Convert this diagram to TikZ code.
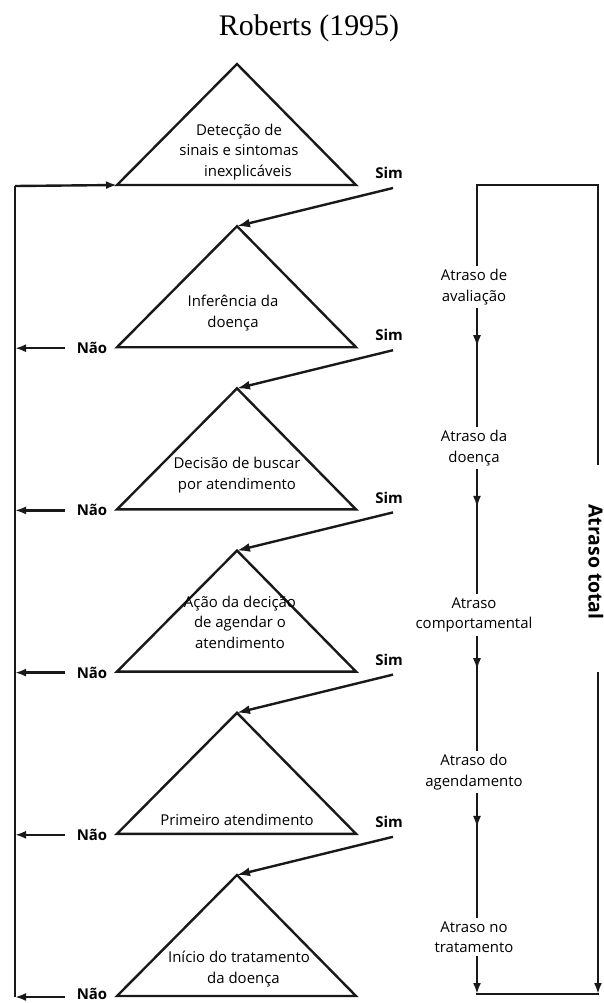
\documentclass[tikz,border=0pt]{standalone}
\usepackage{fontspec}
\setmainfont{Open Sans}
\newfontfamily\titlefont{Liberation Serif}
\usetikzlibrary{arrows.meta,decorations.markings}

\tikzset{
  line/.style={draw=black!90, line width=2.4bp},
  tri/.style={line, line join=miter},
  tip/.style={-{Latex[length=11bp,width=8bp]}},
  bigtip/.style={-{Latex[length=13bp,width=9bp]}},
  midtip/.style={postaction={decorate},
    decoration={markings, mark=at position #1 with {\arrow{Latex[length=12bp,width=8bp]}}}},
  tritext/.style={align=center, inner sep=0pt, font=\fontsize{15}{20.5}\selectfont},
  answer/.style={inner sep=0pt, font=\bfseries\fontsize{15}{17}\selectfont},
  delay/.style={align=center, inner xsep=0pt, inner ysep=3bp, font=\fontsize{15}{20.5}\selectfont},
}

\begin{document}
\begin{tikzpicture}[x=1bp,y=-1bp]
\useasboundingbox (0,0) rectangle (604,1003);

% title
\node[font=\titlefont\fontsize{30}{34}\selectfont] (title) at (309,28) {Roberts (1995)};

% triangle corners and the left return line points
\foreach \k in {1,...,6} {
  \pgfmathsetmacro\by{185+162.2*(\k-1)}
  \coordinate (t\k l) at (117,\by);
  \coordinate (t\k r) at (356,\by);
  \coordinate (t\k a) at (237,\by-121);
  \coordinate (L\k) at (15,\by+1);
  \draw[tri] (t\k a) -- (t\k r) -- (t\k l) -- cycle;
}

% stage texts
\node[tritext] (x1) at (239,152) {Detecção de\\sinais e sintomas\\\hspace*{1.2em}inexplicáveis};
\node[tritext] (x2) at (233,313) {Inferência da\\doença};
\node[tritext] (x3) at (237,475) {Decisão de buscar\\por atendimento};
\node[tritext] (x4) at (240,622) {Ação da decição\\de agendar o\\atendimento};
\node[tritext] (x5) at (237,820) {Primeiro atendimento};
\node[tritext] (x6) at (239,969) {Início do tratamento\\\hspace*{0.6em}da doença};

% "Sim" branches
\foreach \k/\n in {1/2,2/3,3/4,4/5,5/6} {
  \node[answer] (s\k) at (389,{185+162.2*(\k-1)-12}) {Sim};
  \coordinate (S\k) at (393,{185+162.2*(\k-1)+3});
  \draw[line, bigtip] (S\k) -- (t\n a);
}

% "Não" branches back to the left line
\foreach \k in {2,...,5} {
  \node[answer, inner xsep=12bp] (n\k) at (92,{185+162.2*(\k-1)+1}) {Não};
  \draw[line, tip] (n\k.west) -- (L\k);
}
\node[answer, inner xsep=12bp] (n6) at (92,994) {Não};
\draw[line, tip] (n6.west |- L6) -- (L6);

\draw[line] (L6) -- (L1);
\draw[line, tip] (L1) -- (t1l);

% delay column
\coordinate (mt) at (477,185);
\coordinate (rt) at (598,185);
\coordinate (mb) at (477,994);
\coordinate (rb) at (598,994);
\coordinate (rg1) at (598,465);
\coordinate (rg2) at (598,672);

\node[delay] (d1) at (474,287) {Atraso de\\avaliação};
\node[delay] (d2) at (474,448) {Atraso da\\doença};
\node[delay] (d3) at (474,615) {Atraso\\comportamental};
\node[delay] (d4) at (474,772) {Atraso do\\agendamento};
\node[delay] (d5) at (474,937) {Atraso no\\tratamento};

\node[inner sep=0pt, rotate=-90, font=\bfseries\fontsize{19.5}{22}\selectfont] (tot) at (596,562) {Atraso total};

\draw[line, line join=miter] (rg1) -- (rt) -- (mt) -- (mt |- d1.north);
\draw[line, midtip=0.33] (mt |- d1.south) -- (mt |- d2.north);
\draw[line, midtip=0.31] (mt |- d2.south) -- (mt |- d3.north);
\draw[line, midtip=0.3] (mt |- d3.south) -- (mt |- d4.north);
\draw[line, midtip=0.28] (mt |- d4.south) -- (mt |- d5.north);
\draw[line, tip] (mt |- d5.south) -- (mb);
\draw[line, tip] (rg2) -- (rb);
\draw[line, line cap=rect] (mb) -- (rb);
\end{tikzpicture}
\end{document}
